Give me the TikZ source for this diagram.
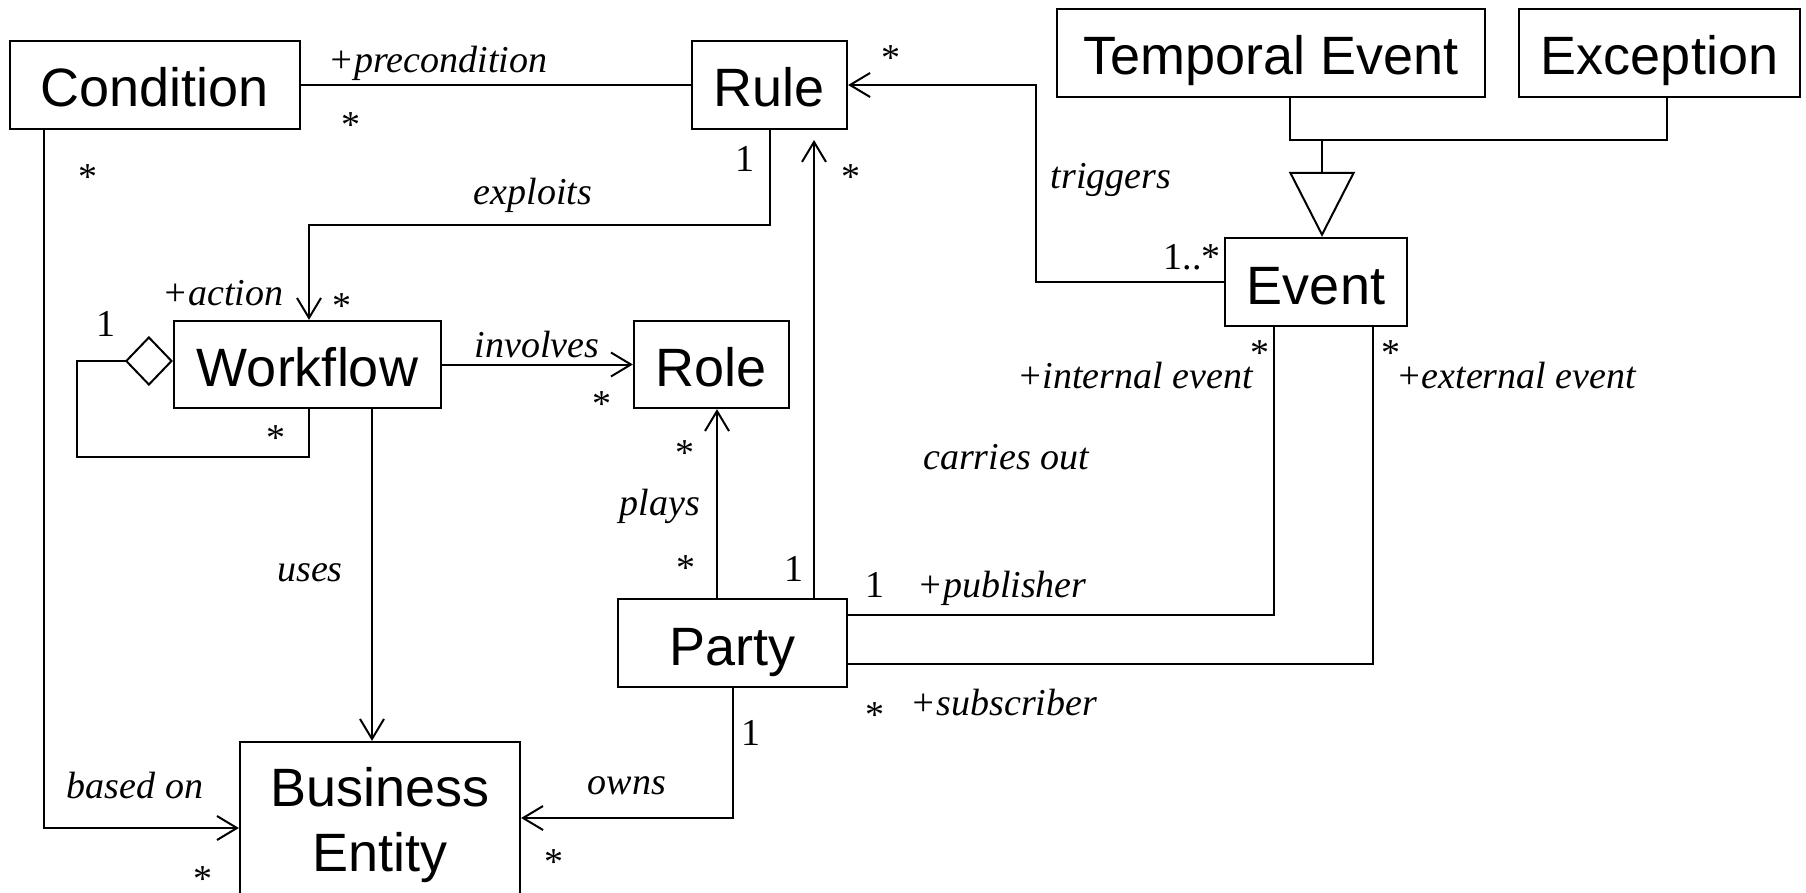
\documentclass[tikz,border=0pt]{standalone}
\usepackage{fontspec}
\setmainfont{Liberation Serif}
\newfontfamily\boxfont{Liberation Sans}
\usetikzlibrary{arrows.meta}
\begin{document}
\begin{tikzpicture}[x=1pt,y=-1pt,
  cls/.style={draw, line width=2.2pt, font=\boxfont\fontsize{54}{65}\selectfont, inner sep=0pt, minimum height=88pt, align=center},
  one/.style={text height=48pt, text depth=4pt},
  lbl/.style={font=\itshape\fontsize{38}{40}\selectfont, inner sep=0pt, yshift=-3.5pt},
  mult/.style={font=\fontsize{38}{40}\selectfont, inner sep=0pt},
  ast/.style={mult, yshift=-4.5pt},
  conn/.style={line width=2pt},
  nav/.style={conn, -{Straight Barb[length=20pt,width=24pt]}},
]
\useasboundingbox (0,0) rectangle (1806,893);
\begin{scope}
\clip (0,0) rectangle (1806,893);
% classes
\node[cls, one, minimum width=290pt] (cond) at (155,85) {Condition};
\node[cls, one, minimum width=155pt] (rule) at (769.5,85) {Rule};
\node[cls, one, minimum width=428pt] (temp) at (1271,53) {Temporal Event};
\node[cls, one, minimum width=281pt] (exc) at (1659.5,53) {Exception};
\node[cls, one, minimum width=182pt] (event) at (1316,282) {Event};
\node[cls, one, minimum width=267pt, minimum height=87pt] (wf) at (307.5,364.5) {Workflow};
\node[cls, one, minimum width=155pt, minimum height=87pt] (role) at (711.5,364.5) {Role};
\node[cls, one, minimum width=229pt] (party) at (732.5,643) {Party};
\node[cls, minimum width=280pt, minimum height=166pt] (be) at (380,825) {Business\\Entity};

% connectors
\draw[conn] (cond.east) -- (rule.west);
\coordinate (trg) at (1036,85);
\draw[nav] (event.west) -| (trg) -- (rule.east);
\coordinate (exk) at (309,225);
\draw[nav] (rule.south) |- (exk) -- (exk |- wf.north);
\draw[nav] (wf.east) -- (role.west);
\coordinate (lp1) at (309,457);
\coordinate (lp2) at (77,361);
\draw[conn, -{Diamond[open,length=48pt,width=50pt]}] (lp1 |- wf.south) -- (lp1) -| (lp2) -- (lp2 -| wf.west);
\coordinate (us) at (372,0);
\draw[nav] (us |- wf.south) -- (us |- be.north);
\coordinate (bo) at (44,828);
\draw[nav] (bo |- cond.south) -- (bo) -- (bo -| be.west);
\coordinate (pl) at (717,0);
\draw[nav] (pl |- party.north) -- (pl |- role.south);
\coordinate (co) at (814,140);
\draw[nav] (co |- party.north) -- (co);
\coordinate (ow) at (733,818);
\draw[nav] (ow |- party.south) -- (ow) -- (ow -| be.east);
\coordinate (pb) at (1274,615);
\draw[conn] (pb -| party.east) -- (pb) -- (pb |- event.south);
\coordinate (sb) at (1373,664);
\draw[conn] (sb -| party.east) -- (sb) -- (sb |- event.south);
\coordinate (g1) at (1290,140);
\coordinate (g2) at (1667,140);
\coordinate (g3) at (1322,140);
\draw[conn] (g1 |- temp.south) -- (g1) -- (g2) -- (g2 |- exc.south);
\draw[conn, -{Triangle[open,length=65pt,width=66pt]}] (g3) -- (g3 |- event.north);

% role / association labels
\node[lbl] (l1) at (438,60) {+precondition};
\node[lbl] (l2) at (533,192) {exploits};
\node[lbl] (l3) at (1111,176) {triggers};
\node[lbl] (l4) at (223,290) {+action};
\node[lbl] (l5) at (537,341) {involves};
\node[lbl] (l6) at (1135,372) {+internal event};
\node[lbl] (l7) at (1516,372) {+external event};
\node[lbl] (l8) at (1006,454) {carries out};
\node[lbl] (l9) at (660,503) {plays};
\node[lbl] (l10) at (310,569) {uses};
\node[lbl] (l11) at (1002,585) {+publisher};
\node[lbl] (l12) at (1004,699) {+subscriber};
\node[lbl] (l13) at (135,782) {based on};
\node[lbl] (l14) at (627,782) {owns};

% multiplicities
\node[ast] (m1) at (351,121) {*};
\node[ast] (m2) at (891,54) {*};
\node[ast] (m3) at (88,173) {*};
\node[mult] (m4) at (745,159) {1};
\node[ast] (m5) at (851,173) {*};
\node[mult] (m6) at (1192,257) {1..*};
\node[ast] (m7) at (342,302) {*};
\node[mult] (m8) at (106,324) {1};
\node[ast] (m9) at (602,400) {*};
\node[ast] (m10) at (276,434) {*};
\node[ast] (m11) at (1260,349) {*};
\node[ast] (m12) at (1391,349) {*};
\node[ast] (m13) at (685,449) {*};
\node[ast] (m14) at (686,564) {*};
\node[mult] (m15) at (794,569) {1};
\node[mult] (m16) at (875,585) {1};
\node[ast] (m17) at (875,711) {*};
\node[mult] (m18) at (751,733) {1};
\node[ast] (m19) at (203,875) {*};
\node[ast] (m20) at (554,858) {*};
\end{scope}
\end{tikzpicture}
\end{document}
